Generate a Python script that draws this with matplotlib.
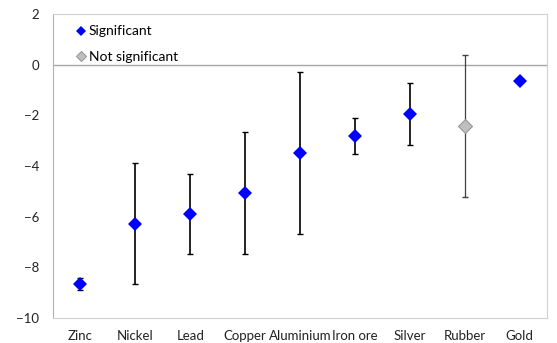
import numpy as np
import matplotlib.pyplot as plt

plt.rcParams['font.family'] = ['Lato', 'DejaVu Sans']

commodities = ['Zinc', 'Nickel', 'Lead', 'Copper', 'Aluminium', 'Iron ore', 'Silver', 'Rubber', 'Gold']
estimates = [-8.65, -6.27, -5.89, -5.05, -3.47, -2.81, -1.96, -2.43, -0.63]
errors = [0.23, 2.37, 1.57, 2.41, 3.2, 0.72, 1.23, 2.8, 0.0]
significant = [True, True, True, True, True, True, True, False, True]

fig = plt.figure(figsize=(5.57, 3.43), dpi=100)
ax = fig.add_axes([0.0952, 0.0729, 0.8868, 0.8863])

x = np.arange(len(commodities))
for xi, est, err, sig in zip(x, estimates, errors, significant):
    if err > 0:
        ax.errorbar(xi, est, yerr=err, fmt='none', ecolor='black' if sig else '#404040',
                    elinewidth=1.2 if sig else 0.9, capsize=2, capthick=1, zorder=2)

sig_idx = [i for i, s in enumerate(significant) if s]
ns_idx = [i for i, s in enumerate(significant) if not s]
ax.plot(x[sig_idx], [estimates[i] for i in sig_idx], 'D', color='#0000ff', markersize=7,
        markeredgewidth=0, linestyle='none', label='Significant', zorder=3)
ax.plot(x[ns_idx], [estimates[i] for i in ns_idx], 'D', color='#bfbfbf', markeredgecolor='#999999',
        markeredgewidth=0.8, markersize=7, linestyle='none', label='Not significant', zorder=3)

ax.axhline(0, color='#a6a6a6', linewidth=1, zorder=1)

ax.set_xlim(-0.5, len(commodities) - 0.5)
ax.set_ylim(-10, 2)
ax.set_yticks(np.arange(-10, 3, 2))
ax.set_xticks(x)
ax.set_xticklabels(commodities)
ax.tick_params(axis='both', length=0, labelsize=9.5, colors='#222222')
ax.tick_params(axis='x', pad=9)
ax.tick_params(axis='y', pad=10)

for side in ['top', 'right', 'bottom', 'left']:
    ax.spines[side].set_color('#d0d0d0')
ax.spines['left'].set_color('#b0b0b0')

ax.legend(loc='upper left', frameon=False, fontsize=10, handletextpad=0.1,
          handlelength=1.0, markerscale=0.75, borderaxespad=0.2, labelspacing=0.95,
          bbox_to_anchor=(0.025, 0.99))

fig.savefig('out.png', dpi=100)
